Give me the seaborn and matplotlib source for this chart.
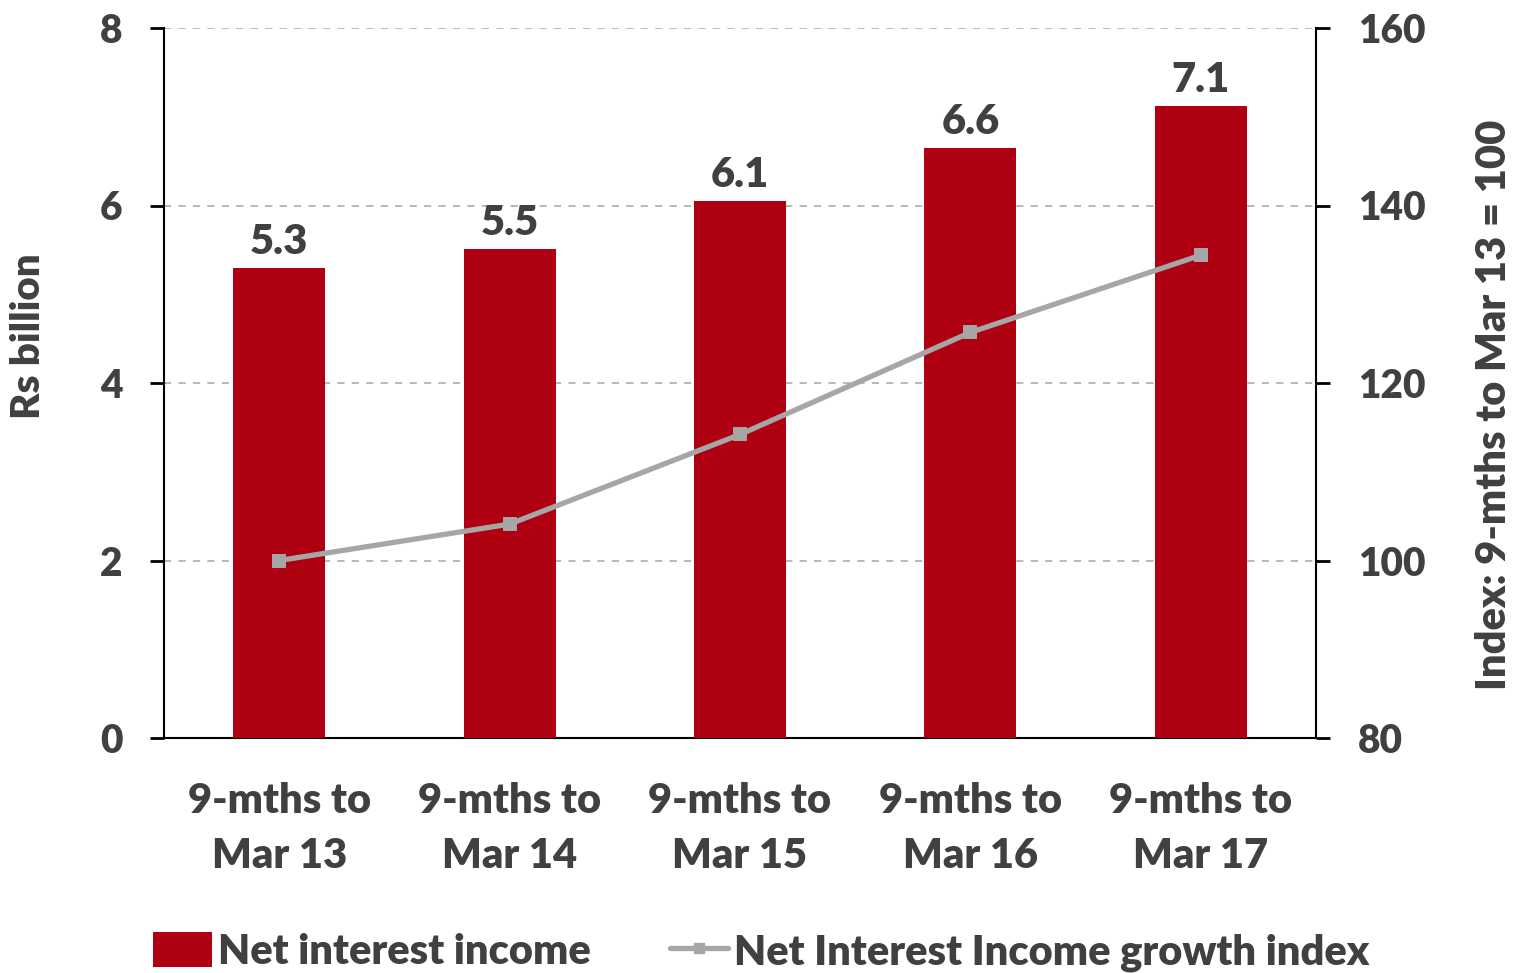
import matplotlib
matplotlib.use("Agg")
import matplotlib.pyplot as plt
import seaborn as sns
import pandas as pd
from matplotlib.patches import Patch
from matplotlib.lines import Line2D

categories = ["9-mths to\nMar 13", "9-mths to\nMar 14", "9-mths to\nMar 15", "9-mths to\nMar 16", "9-mths to\nMar 17"]
net_interest_income = [5.30, 5.51, 6.05, 6.65, 7.12]
bar_labels = ["5.3", "5.5", "6.1", "6.6", "7.1"]
growth_index = [100.0, 104.1, 114.2, 125.7, 134.4]
left_ticks = [0, 2, 4, 6, 8]
right_ticks = [80, 100, 120, 140, 160]

sns.set_theme(style="white")
plt.rcParams["font.family"] = ["Lato", "DejaVu Sans"]
W = "heavy"
plt.rcParams["font.weight"] = W

TEXT = "#404040"
RED = "#AE0010"
GREY = "#A6A6A6"

df = pd.DataFrame({"cat": categories, "nii": net_interest_income, "idx": growth_index})

fig = plt.figure(figsize=(15.14, 9.73), dpi=100)
fig.patch.set_facecolor("white")
ax = fig.add_axes([164/1514, 1-738/973, (1316-164)/1514, (738-28)/973])
ax.set_facecolor("none")

sns.barplot(data=df, x="cat", y="nii", ax=ax, color=RED, width=0.4, saturation=1, zorder=3)
for p in ax.patches:
    p.set_edgecolor("none")
ax.bar_label(ax.containers[0], labels=bar_labels, padding=5, fontsize=30, fontweight=W, color=TEXT)

ax.set_xlim(-0.5, 4.5)
ax.set_ylim(0, 8)
ax.set_yticks(left_ticks)
ax.yaxis.grid(True, linestyle=(0, (4, 4)), color="#B3B3B3", linewidth=1.3, zorder=0)
ax.set_axisbelow(True)
ax.set_xlabel("")
ax.set_ylabel("Rs billion", fontsize=29, fontweight=W, color=TEXT)
ax.yaxis.set_label_coords(-0.1016, 0.566)
ax.tick_params(axis="y", which="both", left=True, length=10, width=2, color="black",
               labelsize=28, labelcolor=TEXT, pad=20)
ax.tick_params(axis="x", bottom=False, labelsize=30, labelcolor=TEXT, pad=26)
for lab in ax.get_xticklabels():
    lab.set_linespacing(1.55)
    lab.set_fontweight(W)
for lab in ax.get_yticklabels():
    lab.set_fontweight(W)
for s in ["top", "right"]:
    ax.spines[s].set_visible(False)
ax.spines["left"].set_color("black")
ax.spines["left"].set_linewidth(1.5)
ax.spines["bottom"].set_color("black")
ax.spines["bottom"].set_linewidth(1.5)

ax2 = ax.twinx()
sns.pointplot(data=df, x="cat", y="idx", ax=ax2, color=GREY, markers="s", linestyles="-",
              markersize=7, linewidth=3.8)
ax2.set_xlim(-0.5, 4.5)
ax2.set_ylim(80, 160)
ax2.set_yticks(right_ticks)
ax2.set_ylabel("Index: 9-mths to Mar 13 = 100", fontsize=30, fontweight=W, color=TEXT)
ax2.yaxis.set_label_coords(1.138, 0.469)
ax2.tick_params(axis="y", right=True, length=10, width=2, color="black",
                labelsize=28, labelcolor=TEXT, pad=20)
for lab in ax2.get_yticklabels():
    lab.set_fontweight(W)
for s in ["top", "left", "bottom"]:
    ax2.spines[s].set_visible(False)
ax2.spines["right"].set_color("black")
ax2.spines["right"].set_linewidth(1.5)
ax2.grid(False)

handles = [Patch(facecolor=RED, edgecolor="none"),
           Line2D([], [], color=GREY, linewidth=3.8, marker="s", markersize=7)]
labels = ["Net interest income", "Net Interest Income growth index"]
fig.legend(handles, labels, loc="lower center", bbox_to_anchor=(0.503, -0.037), ncol=2, frameon=False,
           prop={"family": "Lato", "weight": W, "size": 30}, labelcolor=TEXT,
           handlelength=1.4, handleheight=0.9, handletextpad=0.15, columnspacing=1.9)

fig.savefig("out.png", dpi=100, facecolor="white")
